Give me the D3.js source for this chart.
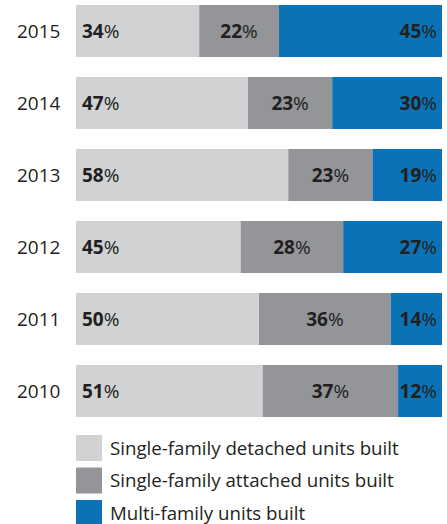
<!DOCTYPE html>
<html>
<head>
<meta charset="utf-8">
<script src="https://cdn.jsdelivr.net/npm/d3@7"></script>
<style>
  body { margin: 0; background: #fff; }
  svg { display: block; font-family: "Open Sans", sans-serif; }
</style>
</head>
<body>
<div id="chart"></div>
<script>
// chart values
const years = ["2015", "2014", "2013", "2012", "2011", "2010"];
const detached = [34, 47, 58, 45, 50, 51];
const attached = [22, 23, 23, 28, 36, 37];
const multi = [45, 30, 19, 27, 14, 12];
const seriesNames = [
  "Single-family detached units built",
  "Single-family attached units built",
  "Multi-family units built"
];
const colors = ["#d1d2d4", "#939598", "#0b72b5"];

const width = 447, height = 524;
const margin = { top: 5, left: 76, right: 5 };
const barsBottom = 417;

const svg = d3.select("#chart")
  .append("svg")
  .attr("width", width)
  .attr("height", height);

const y = d3.scaleBand()
  .domain(years)
  .range([margin.top, barsBottom])
  .paddingInner(20 / 72)
  .paddingOuter(0);

const rows = years.map((yr, i) => {
  const vals = [detached[i], attached[i], multi[i]];
  const total = d3.sum(vals);
  let acc = 0;
  return {
    year: yr,
    segs: vals.map((v, k) => {
      const s = { k, v, x0: acc / total, x1: (acc + v) / total };
      acc += v;
      return s;
    })
  };
});

const x = d3.scaleLinear()
  .domain([0, 1])
  .range([margin.left, width - margin.right]);

const row = svg.selectAll("g.row")
  .data(rows)
  .join("g")
  .attr("class", "row")
  .attr("transform", d => "translate(0," + y(d.year) + ")");

row.selectAll("rect")
  .data(d => d.segs)
  .join("rect")
  .attr("x", d => x(d.x0))
  .attr("width", d => x(d.x1) - x(d.x0))
  .attr("height", y.bandwidth())
  .attr("fill", d => colors[d.k]);

// year labels
row.append("text")
  .attr("x", 17)
  .attr("y", y.bandwidth() / 2)
  .attr("dy", "0.36em")
  .attr("font-size", 19)
  .attr("fill", "#231f20")
  .text(d => d.year);

// value labels
const lab = row.selectAll("text.val")
  .data(d => d.segs)
  .join("text")
  .attr("class", "val")
  .attr("x", d => d.k === 0 ? x(d.x0) + 6 : d.k === 1 ? (x(d.x0) + x(d.x1)) / 2 : x(d.x1) - 5)
  .attr("y", y.bandwidth() / 2)
  .attr("dy", "0.36em")
  .attr("text-anchor", d => d.k === 0 ? "start" : d.k === 1 ? "middle" : "end")
  .attr("font-size", 19)
  .attr("fill", "#231f20");

lab.append("tspan").attr("font-weight", "bold").text(d => d.v);
lab.append("tspan").text("%");

// legend
const legend = svg.selectAll("g.legend")
  .data(seriesNames)
  .join("g")
  .attr("class", "legend")
  .attr("transform", (d, i) => "translate(76," + (435 + i * 32.5) + ")");

legend.append("rect")
  .attr("width", 26)
  .attr("height", 26)
  .attr("fill", (d, i) => colors[i]);

legend.append("text")
  .attr("x", 34)
  .attr("y", 13)
  .attr("dy", "0.36em")
  .attr("font-size", 18.7)
  .attr("fill", "#231f20")
  .text(d => d);
</script>
</body>
</html>
